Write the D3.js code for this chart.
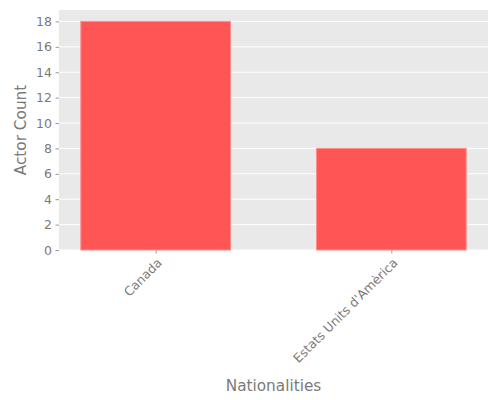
<!DOCTYPE html>
<html><head><meta charset="utf-8">
<script src="https://cdn.jsdelivr.net/npm/d3@7"></script>
<style>body{margin:0;background:#fff}svg{display:block}</style>
</head><body><svg id="c" width="500" height="400"></svg>
<script>
const categories = ["Canada", "Estats Units d'Am\u00e8rica"];
const counts = [18, 8];
const yTicks = [0, 2, 4, 6, 8, 10, 12, 14, 16, 18];

const W = 500, H = 400;
const m = {left: 59, right: 12, top: 10, bottom: 150};
const svg = d3.select("#c");
const font = "DejaVu Sans, sans-serif";
const txt = "#7a7a7a";

const x = d3.scaleLinear().domain([-0.41, 1.41]).range([m.left, W - m.right]);
const y = d3.scaleLinear().domain([0, 18.9]).range([H - m.bottom, m.top]);
const bw = 0.635;

svg.append("rect").attr("x", m.left).attr("y", m.top)
  .attr("width", W - m.right - m.left).attr("height", H - m.bottom - m.top)
  .attr("fill", "#E9E9E9");

// grid
svg.append("g").selectAll("line").data(yTicks).join("line")
  .attr("x1", m.left).attr("x2", W - m.right)
  .attr("y1", d => y(d)).attr("y2", d => y(d))
  .attr("stroke", "#fff").attr("stroke-width", 1);

// bars
svg.append("g").selectAll("rect").data(counts).join("rect")
  .attr("x", (d, i) => x(i - bw / 2))
  .attr("width", x(bw) - x(0))
  .attr("y", d => y(d))
  .attr("height", d => y(0) - y(d))
  .attr("fill", "#FF5555")
  .attr("stroke", "#FF8F8F").attr("stroke-width", 1);

// y axis
const ya = svg.append("g").attr("transform", `translate(${m.left},0)`)
  .call(d3.axisLeft(y).tickValues(yTicks).tickSize(3.5).tickPadding(3.5));
ya.select(".domain").remove();
ya.selectAll("line").attr("stroke", "#999");
ya.selectAll("text").attr("fill", txt).attr("font-family", font).attr("font-size", "12.5px");

// x axis
const xa = svg.append("g").attr("transform", `translate(0,${H - m.bottom})`)
  .call(d3.axisBottom(x).tickValues([0, 1]).tickFormat(i => categories[i]).tickSize(3.5).tickPadding(3.5));
xa.select(".domain").remove();
xa.selectAll("line").attr("stroke", "#999");
xa.selectAll("text").attr("fill", txt).attr("font-family", font).attr("font-size", "12.5px")
  .attr("text-anchor", "end")
  .attr("dy", "0.75em")
  .attr("y", 0)
  .attr("transform", "translate(0,7) rotate(-45)");

// axis titles
svg.append("text").attr("x", (m.left + W - m.right) / 2).attr("y", 391)
  .attr("text-anchor", "middle").attr("fill", txt).attr("font-family", font)
  .attr("font-size", "15.3px").text("Nationalities");
svg.append("text").attr("transform", `translate(26,130) rotate(-90)`)
  .attr("text-anchor", "middle").attr("fill", txt).attr("font-family", font)
  .attr("font-size", "15.3px").text("Actor Count");
</script></body></html>
